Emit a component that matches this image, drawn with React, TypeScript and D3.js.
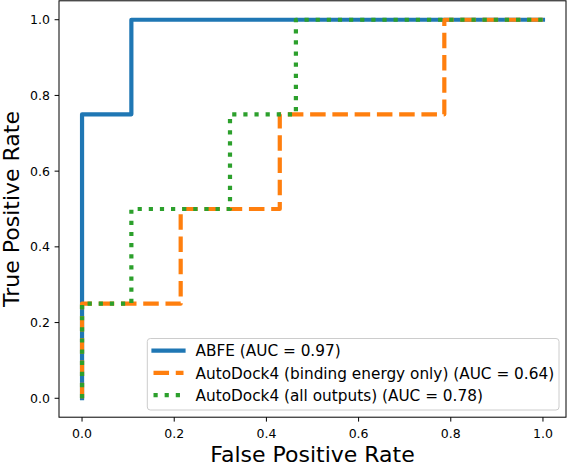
import React from "react";
import * as d3 from "d3";

const W = 568;
const H = 466;

const xTicks = [0.0, 0.2, 0.4, 0.6, 0.8, 1.0];
const yTicks = [0.0, 0.2, 0.4, 0.6, 0.8, 1.0];

const abfeFpr = [0, 0, 0.107, 0.107, 1];
const abfeTpr = [0, 0.75, 0.75, 1, 1];

const adBeFpr = [0, 0, 0.214, 0.214, 0.429, 0.429, 0.786, 0.786, 1];
const adBeTpr = [0, 0.25, 0.25, 0.5, 0.5, 0.75, 0.75, 1, 1];

const adAllFpr = [0, 0, 0.107, 0.107, 0.321, 0.321, 0.464, 0.464, 1];
const adAllTpr = [0, 0.25, 0.25, 0.5, 0.5, 0.75, 0.75, 1, 1];

const seriesNames = [
  "ABFE (AUC = 0.97)",
  "AutoDock4 (binding energy only) (AUC = 0.64)",
  "AutoDock4 (all outputs) (AUC = 0.78)",
];
const colors = ["#1f77b4", "#ff7f0e", "#2ca02c"];

const LW = 4.2;
const dashes = ["", `${3.7 * LW} ${1.6 * LW}`, `${1 * LW} ${1.65 * LW}`];
const caps: ("square" | "butt")[] = ["square", "butt", "butt"];

const plot = { left: 59, right: 566, top: 0.8, bottom: 417.2 };
const FONT = "DejaVu Sans, sans-serif";

export default function App() {
  const x = d3.scaleLinear().domain([-0.05, 1.05]).range([plot.left, plot.right]);
  const y = d3.scaleLinear().domain([-0.05, 1.05]).range([plot.bottom, plot.top]);

  const series = [
    { fpr: abfeFpr, tpr: abfeTpr },
    { fpr: adBeFpr, tpr: adBeTpr },
    { fpr: adAllFpr, tpr: adAllTpr },
  ];

  const line = d3
    .line<[number, number]>()
    .x((d) => x(d[0]))
    .y((d) => y(d[1]));

  const legend = { x0: 147.3, x1: 559, y0: 338.5, y1: 410 };
  const legendRowsY = [350.6, 372.9, 395.2];
  const handleX0 = 153.5;
  const handleX1 = 183.5;
  const textX = 195.5;

  return (
    <svg
      width={W}
      height={H}
      style={{ position: "absolute", left: 0, top: 0, background: "#fff" }}
      fontFamily={FONT}
    >
      <rect x={0} y={0} width={W} height={H} fill="#fff" />
      {series.map((s, i) => (
        <path
          key={i}
          d={line(s.fpr.map((f, j) => [f, s.tpr[j]] as [number, number])) || ""}
          fill="none"
          stroke={colors[i]}
          strokeWidth={LW}
          strokeDasharray={dashes[i] || undefined}
          strokeLinecap={caps[i]}
          strokeLinejoin="round"
        />
      ))}
      <rect
        x={plot.left}
        y={plot.top}
        width={plot.right - plot.left}
        height={plot.bottom - plot.top}
        fill="none"
        stroke="#000"
        strokeWidth={1}
      />
      {xTicks.map((t) => (
        <g key={"x" + t}>
          <line x1={x(t)} x2={x(t)} y1={plot.bottom} y2={plot.bottom + 4.4} stroke="#000" strokeWidth={1} />
          <text x={x(t)} y={437.5} textAnchor="middle" fontSize={12.5} fill="#000">
            {t.toFixed(1)}
          </text>
        </g>
      ))}
      {yTicks.map((t) => (
        <g key={"y" + t}>
          <line x1={plot.left - 4.4} x2={plot.left} y1={y(t)} y2={y(t)} stroke="#000" strokeWidth={1} />
          <text x={50} y={y(t) + 4.5} textAnchor="end" fontSize={12.5} fill="#000">
            {t.toFixed(1)}
          </text>
        </g>
      ))}
      <text x={(plot.left + plot.right) / 2} y={461.7} textAnchor="middle" fontSize={22} fill="#000">
        False Positive Rate
      </text>
      <text
        transform={`translate(18.5, ${(plot.top + plot.bottom) / 2}) rotate(-90)`}
        textAnchor="middle"
        fontSize={22}
        fill="#000"
      >
        True Positive Rate
      </text>
      <rect
        x={legend.x0}
        y={legend.y0}
        width={legend.x1 - legend.x0}
        height={legend.y1 - legend.y0}
        rx={3}
        ry={3}
        fill="#fff"
        fillOpacity={0.8}
        stroke="#cccccc"
        strokeWidth={1}
      />
      {seriesNames.map((name, i) => (
        <g key={name}>
          <line
            x1={handleX0}
            x2={handleX1}
            y1={legendRowsY[i]}
            y2={legendRowsY[i]}
            stroke={colors[i]}
            strokeWidth={LW}
            strokeDasharray={dashes[i] || undefined}
            strokeLinecap={caps[i]}
          />
          <text x={textX} y={legendRowsY[i] + 5.6} fontSize={15.3} fill="#000">
            {name}
          </text>
        </g>
      ))}
    </svg>
  );
}
